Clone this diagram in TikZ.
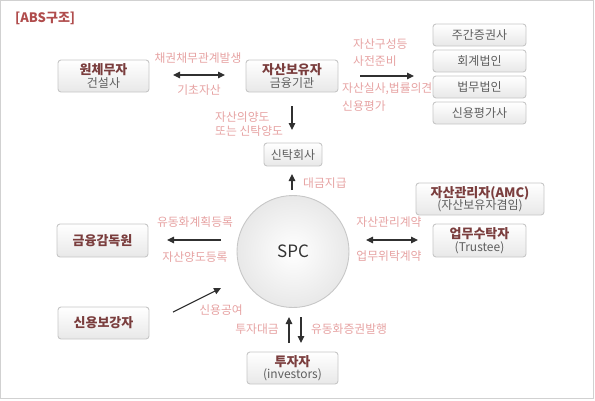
\documentclass[tikz,border=0pt]{standalone}
\usepackage{fontspec}
\setmainfont{Noto Sans CJK KR}
\usetikzlibrary{arrows.meta}
\definecolor{maroonc}{HTML}{7A3D3D}
\definecolor{pinkl}{HTML}{E6A2A2}
\definecolor{subg}{HTML}{5E5E5E}
\definecolor{bord}{HTML}{C6C6C6}
\definecolor{titlec}{HTML}{B04C4C}
\definecolor{arrc}{HTML}{303030}
\newcommand\bt[1]{{\fontsize{13bp}{15bp}\selectfont\bfseries\color{maroonc}#1}}
\newcommand\st[1]{{\fontsize{12bp}{14bp}\selectfont\color{subg}#1}}
\tikzset{
  box/.style={draw=bord, line width=0.9bp, rounded corners=3bp, top color=white, bottom color=black!9, align=center, inner sep=0pt, font=\fontsize{12bp}{14bp}\selectfont, text=subg},
  lbl/.style={text=pinkl, font=\fontsize{11.8bp}{14bp}\selectfont, inner sep=0pt},
  conn/.style={draw=arrc, line width=1.1bp, -{Triangle[length=7bp,width=6.5bp]}},
  conn2/.style={draw=arrc, line width=1.1bp, {Triangle[length=7bp,width=6.5bp]}-{Triangle[length=7bp,width=6.5bp]}}
}
\begin{document}
\begin{tikzpicture}[x=1bp,y=-1bp]
\useasboundingbox (0,0) rectangle (595,400);
\draw[draw=black!18, line width=1bp] (0.5,0.5) rectangle (593.5,398.5);
\node[text=titlec, font=\fontsize{13bp}{15bp}\selectfont\bfseries, anchor=west, inner sep=0pt] (title) at (15,18) {[ABS구조]};
% boxes
\node[box, minimum width=91bp, minimum height=32bp] (won) at (103.5,76) {\bt{원체무자}\\[-1.5bp]\st{건설사}};
\node[box, minimum width=92bp, minimum height=32bp] (hold) at (292,76) {\bt{자산보유자}\\[-1.5bp]\st{금융기관}};
\node[box, minimum width=93bp, minimum height=22bp] (r1) at (479.5,35) {주간증권사};
\node[box, minimum width=93bp, minimum height=22bp] (r2) at (479.5,61) {회계법인};
\node[box, minimum width=93bp, minimum height=22bp] (r3) at (479.5,87) {법무법인};
\node[box, minimum width=93bp, minimum height=22bp] (r4) at (479.5,113) {신용평가사};
\node[box, minimum width=58bp, minimum height=23bp] (trust) at (293,154.5) {신탁회사};
\node[circle, draw=black!22, line width=0.9bp, inner color=white, outer color=black!9, minimum size=112bp, inner sep=0pt, font=\fontsize{17bp}{19bp}\selectfont, text=black!80] (spc) at (293,251.5) {SPC};
\node[box, minimum width=91bp, minimum height=33bp] (fss) at (102.5,240.5) {\bt{금융감독원}};
\node[box, minimum width=128bp, minimum height=32bp] (amc) at (480,199) {\bt{자산관리자(AMC)}\\[-1.5bp]\st{(자산보유자겸임)}};
\node[box, minimum width=93bp, minimum height=33bp] (trustee) at (479.5,240.5) {\bt{업무수탁자}\\[-1.5bp]\st{(Trustee)}};
\node[box, minimum width=91bp, minimum height=32bp] (credit) at (103.5,323) {\bt{신용보강자}};
\node[box, minimum width=91bp, minimum height=32bp] (inv) at (292.5,368) {\bt{투자자}\\[-1.5bp]\st{(investors)}};
% connector end points
\coordinate (a1) at (173,75); \coordinate (a2) at (225,75);
\coordinate (b1) at (292,106); \coordinate (b2) at (292,130);
\coordinate (c1) at (360,76); \coordinate (c2) at (414,76);
\coordinate (d1) at (292,190); \coordinate (d2) at (292,174);
\coordinate (e1) at (221,240); \coordinate (e2) at (167,240);
\coordinate (f1) at (366,240); \coordinate (f2) at (418,240);
\coordinate (g1) at (173,312); \coordinate (g2) at (221,288);
\coordinate (h1) at (289,343); \coordinate (h2) at (289,317);
\coordinate (i1) at (301,317); \coordinate (i2) at (301,343);
\draw[conn2] (a1) -- (a2);
\draw[conn] (b1) -- (b2);
\draw[conn] (c1) -- (c2);
\draw[conn] (d1) -- (d2);
\draw[conn] (e1) -- (e2);
\draw[conn2] (f1) -- (f2);
\draw[conn] (g1) -- (g2);
\draw[conn] (h1) -- (h2);
\draw[conn] (i1) -- (i2);
% labels
\node[lbl] (l1) at (198,58) {채권채무관계발생};
\node[lbl] (l2) at (199,90) {기초자산};
\node[lbl, anchor=west] (l3) at (215,117) {자산의양도};
\node[lbl, anchor=west] (l4) at (215,131) {또는 신탁양도};
\node[lbl, anchor=west] (l5) at (353,44) {자산구성등};
\node[lbl, anchor=west] (l6) at (353,61) {사전준비};
\node[lbl, anchor=west] (l7) at (342,89) {자산실사,법률의견};
\node[lbl, anchor=west] (l8) at (342,106) {신용평가};
\node[lbl, anchor=west] (l9) at (303,183) {대금지급};
\node[lbl] (l10) at (195,222) {유동화계획등록};
\node[lbl] (l11) at (195,257) {자산양도등록};
\node[lbl] (l12) at (389,222) {자산관리계약};
\node[lbl] (l13) at (389,256) {업무위탁계약};
\node[lbl] (l14) at (221,310) {신용공여};
\node[lbl] (l15) at (257,329) {투자대금};
\node[lbl] (l16) at (349,329) {유동화증권발행};
\end{tikzpicture}
\end{document}
